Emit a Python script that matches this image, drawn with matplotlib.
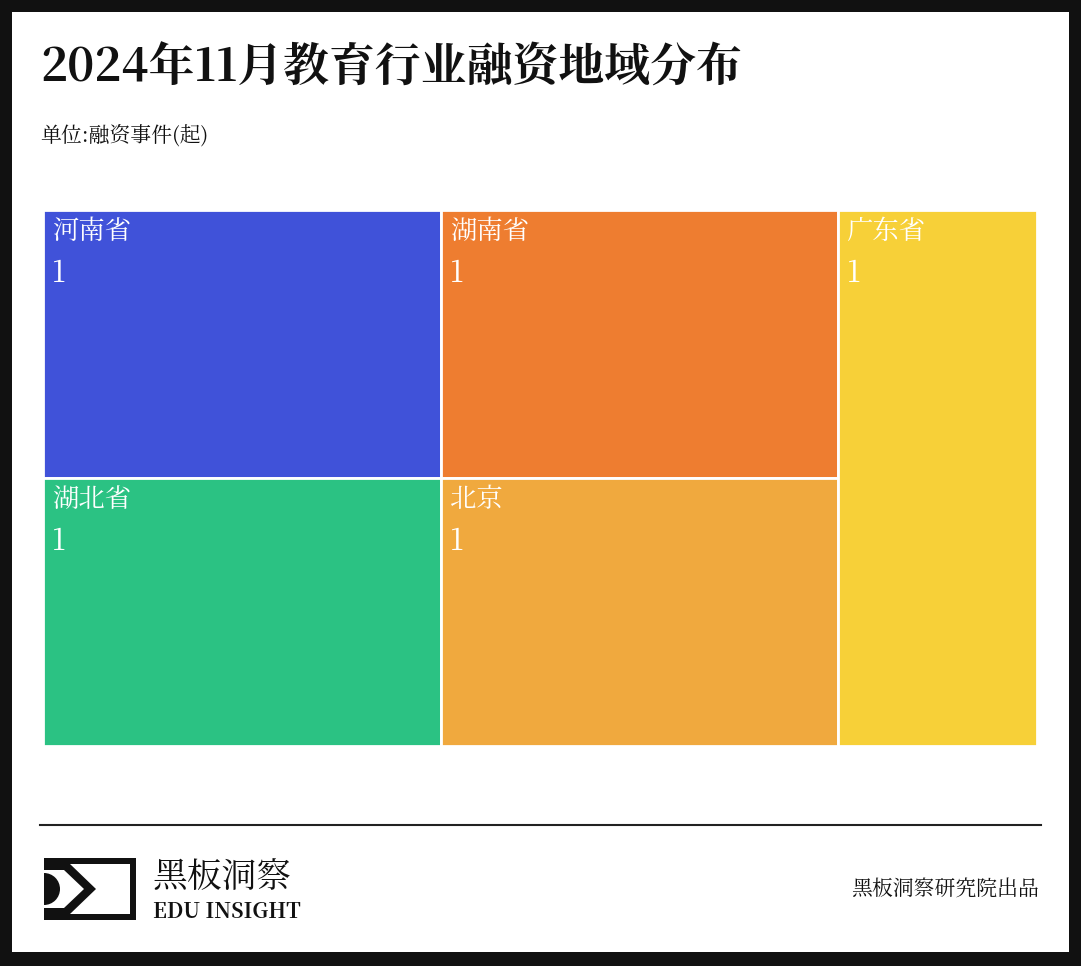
import matplotlib.pyplot as plt
from matplotlib import font_manager
from matplotlib.patches import Rectangle, Wedge, Polygon

cjk = [f.name for f in font_manager.fontManager.ttflist if 'CJK' in f.name]
plt.rcParams['font.family'] = (['Noto Sans CJK SC'] if 'Noto Sans CJK SC' in cjk else cjk[:1]) + ['DejaVu Sans']

regions = ['河南省', '湖北省', '湖南省', '北京', '广东省']
counts = [1, 1, 1, 1, 1]
colors = ['#4052D9', '#2BC283', '#EE7D30', '#F0A93E', '#F7D038']


def squarify(vals, x, y, w, h):
    # simple squarified treemap layout, returns (x, y, w, h) per value
    total = sum(vals)
    sizes = [v * w * h / total for v in vals]
    rects = []
    i = 0
    while i < len(sizes):
        side = min(w, h)
        row = [sizes[i]]
        def worst(r):
            s = sum(r)
            return max(max(side * side * a / (s * s), s * s / (side * side * a)) for a in r)
        j = i + 1
        while j < len(sizes) and worst(row + [sizes[j]]) <= worst(row):
            row.append(sizes[j])
            j += 1
        s = sum(row)
        if h <= w:
            cw = s / h
            cy = y
            for a in row:
                rects.append((x, cy, cw, a / cw))
                cy += a / cw
            x += cw
            w -= cw
        else:
            ch = s / w
            cx = x
            for a in row:
                rects.append((cx, y, a / ch, ch))
                cx += a / ch
            y += ch
            h -= ch
        i = j
    return rects


fig = plt.figure(figsize=(10.81, 9.66), dpi=100)
ax = fig.add_axes([0, 0, 1, 1])
ax.set_xlim(0, 1081)
ax.set_ylim(966, 0)
ax.axis('off')

# outer frame
ax.add_patch(Rectangle((0, 0), 1081, 966, fc='#111111', ec='none'))
ax.add_patch(Rectangle((12, 12), 1057, 940, fc='white', ec='none'))

ax.text(40, 68, '2024年11月教育行业融资地域分布', fontsize=33, fontweight='bold',
        va='center', ha='left', color='#111111')
ax.text(40, 135, '单位:融资事件(起)', fontsize=15, va='center', ha='left', color='#111111')

for (rx, ry, rw, rh), name, c, col in zip(squarify(counts, 43, 210, 994, 536),
                                          regions, counts, colors):
    ax.add_patch(Rectangle((rx, ry), rw, rh, fc=col, ec='white', lw=2))
    ax.text(rx + 9, ry + 22, name, fontsize=19, color='white', va='center')
    ax.text(rx + 9, ry + 64, str(c), fontsize=21, color='white', va='center')

ax.plot([40, 1041], [825, 825], color='#222222', lw=1.5)

# logo
ax.add_patch(Rectangle((44, 858), 92, 62, fc='#111111', ec='none'))
ax.add_patch(Rectangle((50, 864), 80, 50, fc='white', ec='none'))
ax.add_patch(Polygon([(44, 864), (70, 864), (96, 889), (70, 914), (44, 914)],
                     closed=True, fc='#111111', ec='none'))
ax.add_patch(Polygon([(44, 870), (64, 870), (84, 889), (64, 908), (44, 908)],
                     closed=True, fc='white', ec='none'))
ax.add_patch(Wedge((44, 889), 16, -90, 90, fc='#111111', ec='none'))
ax.text(153, 878, '黑板洞察', fontsize=25, va='center', ha='left', color='#111111')
ax.text(153, 912, 'EDU INSIGHT', fontsize=15, va='center', ha='left', color='#111111',
        fontweight='bold')
ax.text(1039, 890, '黑板洞察研究院出品', fontsize=15, va='center', ha='right', color='#111111')

fig.savefig('out.png', dpi=100)
